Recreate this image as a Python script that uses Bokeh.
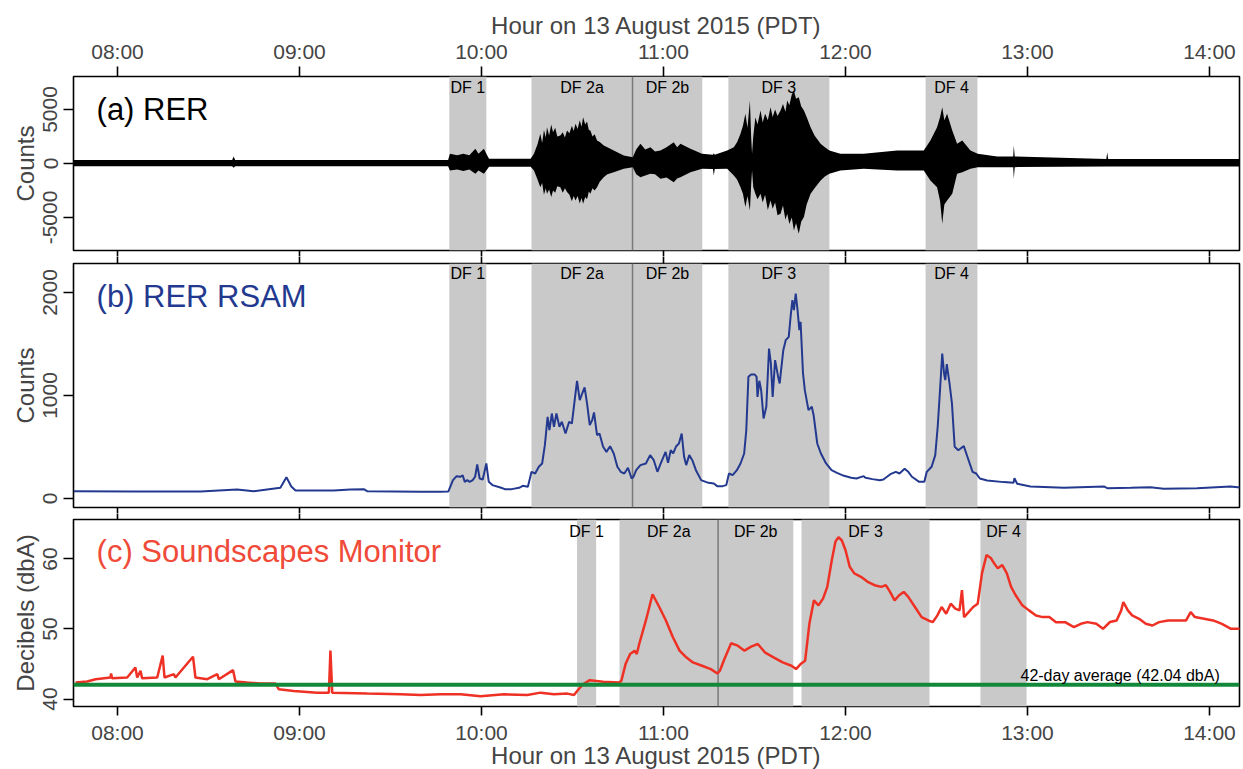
from bokeh.plotting import figure
from bokeh.models import Range1d, LinearAxis, FixedTicker, BoxAnnotation, Span, Label
from bokeh.layouts import column
from bokeh.embed import file_html
from bokeh.resources import INLINE

FONT = "Liberation Sans"

# x values: minutes after 08:00 PDT, 13 August 2015
hour_ticks = [0, 60, 120, 180, 240, 300, 360]
hour_labels = ["08:00", "09:00", "10:00", "11:00", "12:00", "13:00", "14:00"]
x_title = "Hour on 13 August 2015 (PDT)"

# debris-flow windows
df_names = ["DF 1", "DF 2a", "DF 2b", "DF 3", "DF 4"]
seis_df_start = [109.4, 136.5, 169.8, 201.4, 266.4]
seis_df_end = [121.6, 169.8, 192.8, 234.7, 283.5]
snd_df_start = [151.5, 165.5, 198.0, 225.5, 284.5]
snd_df_end = [157.8, 198.0, 222.8, 267.7, 299.7]

# (a) RER seismogram amplitude envelope: (minute, upper counts, lower counts)
rer_envelope = [
    (-14.4, 330, -250), (37.8, 330, -250), (38.3, 652, -400), (38.8, 330, -250),
    (99.9, 330, -250), (109.0, 330, -250), (109.6, 898, -645), (112.0, 760, -560),
    (114.0, 898, -700), (116.0, 760, -560), (118.0, 1361, -953), (119.0, 898, -645),
    (120.8, 1361, -953), (121.6, 898, -645), (122.5, 450, -300), (136.2, 450, -300),
    (137.3, 898, -645), (138.5, 1800, -1500), (139.4, 2750, -2188), (140.0, 1900, -1800),
    (140.6, 3100, -2900), (141.2, 2400, -2300), (141.6, 3367, -2805), (142.3, 2600, -2400),
    (143.0, 3600, -3100), (143.6, 2900, -2500), (144.3, 3300, -2700), (145.0, 2500, -2100),
    (146.0, 2596, -2188), (146.8, 2900, -2700), (147.5, 2400, -2300), (148.2, 3059, -2650),
    (149.0, 2800, -2900), (149.8, 3500, -3500), (150.4, 3000, -3000), (151.0, 3676, -3422),
    (151.7, 3200, -3000), (152.4, 4000, -3700), (153.0, 3400, -3200), (153.5, 4293, -3731),
    (154.2, 3600, -3100), (154.8, 3900, -3300), (155.4, 3100, -2600), (155.9, 3059, -2805),
    (156.6, 2500, -2300), (157.3, 2700, -2500), (158.1, 2133, -2188), (159.0, 2000, -1700),
    (160.3, 1670, -1262), (161.5, 1500, -1000), (163.6, 1207, -799), (166.9, 744, -491),
    (169.9, 590, -336), (171.0, 1300, -1000), (172.4, 1824, -1262), (174.0, 1300, -1100),
    (175.7, 1516, -953), (177.2, 1100, -1000), (179.0, 1207, -1416), (181.0, 1500, -1300),
    (183.4, 1978, -1725), (184.5, 1500, -1400), (185.6, 1824, -1262), (188.9, 1361, -799),
    (192.7, 898, -491), (196.3, 800, -500), (196.6, 960, -1108), (196.9, 800, -500),
    (201.0, 1207, -491), (203.2, 1516, -1108), (204.3, 2000, -1500), (205.4, 2750, -2188),
    (206.2, 3500, -2800), (207.0, 4602, -4039), (207.7, 3300, -3000), (208.5, 5836, -4348),
    (208.9, 2500, -2000), (209.2, 898, -645), (209.6, 2500, -2200), (210.3, 4293, -2805),
    (211.0, 3600, -3300), (212.0, 4910, -2805), (212.7, 3800, -3600), (213.5, 4600, -2900),
    (214.4, 4000, -4300), (215.3, 5219, -3422), (216.0, 4300, -4200), (216.8, 5000, -3600),
    (217.6, 4400, -4800), (218.6, 4910, -4656), (219.4, 5500, -3900), (220.2, 4800, -5200),
    (220.8, 5836, -4656), (221.5, 5400, -5600), (222.3, 6400, -5000), (223.0, 6762, -6199),
    (223.7, 6000, -5500), (224.6, 6145, -6508), (225.4, 5300, -5400), (226.3, 4910, -4965),
    (227.2, 4300, -3800), (228.5, 3367, -2805), (229.8, 2600, -2300), (231.8, 1824, -1571),
    (233.2, 1500, -1200), (234.7, 1207, -953), (238.3, 898, -645), (246.0, 898, -491),
    (257.0, 1207, -645), (265.8, 1207, -645), (268.0, 2133, -1571), (270.2, 3367, -2188),
    (271.2, 4300, -3500), (271.9, 5219, -5582), (272.6, 4000, -3800), (273.5, 4602, -3422),
    (275.2, 3059, -2805), (276.8, 1824, -953), (278.5, 2133, -799), (281.2, 1207, -491),
    (283.6, 898, -336), (290.0, 650, -336), (295.3, 650, -336), (295.5, 1670, -1416),
    (295.8, 650, -336), (326.0, 420, -280), (326.3, 1053, -280), (326.6, 420, -280),
    (371.2, 420, -280),
]

# (b) RER RSAM: (minute, counts)
rsam = [
    (-14.4, 71), (5.4, 68), (27.4, 68), (39.4, 88), (44.9, 71), (49.3, 88), (53.7, 104),
    (55.7, 207), (57.3, 117), (58.7, 78), (71.3, 78), (76.8, 88), (81.2, 91), (82.3, 71),
    (99.9, 65), (106.5, 65), (109.1, 68), (110.6, 178), (111.8, 217), (113.0, 211),
    (113.8, 224), (114.5, 162), (115.3, 178), (116.1, 162), (117.1, 178), (117.9, 211),
    (118.6, 330), (119.4, 194), (120.4, 185), (121.6, 340), (122.4, 162), (123.6, 130),
    (126.5, 104), (127.7, 91), (130.0, 91), (132.4, 104), (133.6, 123), (135.3, 114),
    (136.5, 259), (137.7, 243), (138.9, 308), (140.0, 340), (140.9, 518), (141.8, 793),
    (142.4, 664), (143.2, 825), (143.9, 696), (144.7, 825), (145.7, 696), (146.5, 745),
    (147.7, 631), (148.9, 745), (149.8, 728), (150.6, 923), (151.5, 1143), (152.4, 955),
    (153.0, 1003), (154.0, 1078), (154.8, 923), (155.7, 712), (156.5, 761), (157.1, 835),
    (158.1, 615), (158.9, 631), (160.1, 502), (161.2, 453), (162.4, 508), (163.6, 437),
    (164.8, 308), (165.9, 259), (167.1, 243), (168.3, 298), (169.5, 194), (170.1, 211),
    (171.0, 275), (172.4, 324), (174.2, 340), (175.6, 421), (176.8, 372), (178.0, 259),
    (179.1, 340), (180.7, 453), (181.5, 346), (182.4, 469), (183.2, 437), (184.2, 508),
    (185.1, 534), (186.0, 631), (186.8, 405), (187.5, 324), (188.5, 421), (189.5, 372),
    (190.7, 275), (192.4, 178), (194.8, 152), (196.6, 146), (197.7, 120), (199.5, 120),
    (200.7, 130), (201.6, 243), (202.8, 227), (204.2, 275), (205.4, 340), (206.6, 437),
    (207.3, 664), (208.0, 1181), (208.9, 1204), (210.1, 1204), (210.7, 1181), (211.0, 987),
    (211.6, 1143), (212.2, 1052), (213.0, 777), (213.9, 890), (214.8, 1456), (215.4, 1311),
    (216.0, 987), (216.8, 1343), (217.8, 1181), (218.3, 1117), (219.5, 1440), (220.3, 1537),
    (221.3, 1570), (221.9, 1764), (222.5, 1926), (223.0, 1829), (223.6, 1990), (224.2, 1829),
    (224.8, 1634), (225.2, 1715), (226.0, 1214), (226.6, 1052), (227.8, 858), (228.9, 890),
    (229.5, 809), (230.7, 534), (231.9, 437), (233.6, 340), (235.4, 275), (237.2, 249),
    (239.5, 220), (241.9, 201), (243.6, 194), (246.0, 217), (246.6, 201), (248.9, 188),
    (251.3, 178), (252.5, 185), (254.8, 236), (256.6, 259), (257.8, 243), (259.5, 288),
    (260.7, 259), (261.9, 211), (264.3, 162), (266.0, 162), (266.8, 259), (268.4, 308),
    (269.6, 421), (270.4, 696), (271.1, 1020), (271.9, 1408), (272.5, 1214), (272.9, 1149),
    (273.4, 1304), (274.3, 1117), (275.1, 923), (276.0, 502), (277.2, 469), (279.0, 508),
    (280.2, 405), (281.9, 259), (283.1, 243), (284.3, 194), (286.7, 175), (292.2, 159),
    (295.4, 152), (295.7, 198), (296.6, 143), (301.0, 117), (312.0, 104), (325.2, 117),
    (326.3, 100), (334.0, 104), (340.5, 110), (344.9, 94), (355.9, 100), (366.9, 117),
    (371.2, 104),
]

# (c) Soundscapes monitor: (minute, dBA)
sound = [
    (-13.8, 42.35), (-10.0, 42.49), (-7.2, 42.83), (-2.3, 43.07), (-2.1, 43.65), (-1.8, 42.97),
    (3.2, 43.07), (5.9, 44.51), (6.5, 43.07), (7.6, 44.03), (8.1, 42.97), (13.1, 43.07),
    (14.9, 46.19), (15.5, 43.07), (18.6, 43.55), (19.1, 43.07), (24.9, 46.04), (25.7, 43.07),
    (29.6, 42.83), (32.9, 43.55), (33.4, 42.83), (38.1, 44.12), (38.9, 42.49), (42.7, 42.35),
    (47.1, 42.21), (52.1, 42.21), (53.2, 41.39), (58.1, 41.15), (65.8, 40.91), (69.7, 40.91),
    (70.2, 46.91), (70.8, 40.91), (82.3, 40.77), (93.3, 40.67), (99.9, 40.58), (106.5, 40.67),
    (113.1, 40.67), (119.7, 40.38), (127.4, 40.67), (135.1, 40.58), (139.5, 40.91),
    (143.9, 40.67), (148.3, 40.77), (150.5, 40.58), (152.0, 41.39), (153.5, 42.11),
    (155.7, 42.69), (160.1, 42.45), (165.3, 42.35), (166.1, 42.59), (167.5, 44.99),
    (169.0, 46.43), (170.5, 46.91), (171.2, 46.43), (172.0, 47.86), (174.2, 51.22),
    (176.4, 54.96), (178.6, 53.14), (180.8, 51.22), (183.1, 48.82), (185.3, 46.91),
    (187.5, 45.95), (189.7, 45.23), (192.7, 44.75), (195.6, 44.27), (197.8, 43.64),
    (198.6, 44.03), (200.1, 45.71), (202.3, 47.96), (204.5, 47.62), (206.7, 46.91),
    (208.9, 47.48), (211.1, 47.86), (213.4, 46.67), (216.3, 45.95), (219.3, 45.23),
    (222.2, 44.75), (223.7, 44.27), (225.2, 44.99), (226.7, 45.47), (228.1, 50.74),
    (229.6, 54.10), (231.1, 53.38), (232.6, 54.34), (234.0, 56.02), (235.5, 59.86),
    (236.7, 62.49), (237.7, 63.12), (238.8, 62.64), (240.0, 61.29), (241.4, 58.90),
    (242.9, 57.94), (245.1, 57.46), (247.3, 56.74), (249.6, 56.26), (251.8, 56.02),
    (253.3, 56.26), (254.7, 55.30), (256.2, 54.10), (257.7, 54.82), (259.2, 55.30),
    (260.7, 54.58), (262.9, 53.14), (265.1, 51.70), (267.3, 51.22), (268.8, 50.98),
    (270.3, 51.94), (271.7, 53.14), (273.2, 52.18), (274.7, 53.62), (276.2, 52.90),
    (277.6, 52.66), (278.4, 55.54), (279.1, 51.70), (280.6, 52.42), (282.1, 53.14),
    (283.6, 53.62), (285.0, 57.94), (286.5, 60.57), (288.0, 60.09), (289.0, 59.38),
    (290.2, 58.66), (291.7, 59.14), (293.2, 57.94), (294.6, 56.02), (296.1, 54.82),
    (298.3, 53.38), (300.5, 52.66), (302.8, 51.94), (305.0, 51.70), (307.2, 51.70),
    (309.4, 50.98), (312.4, 50.98), (315.3, 50.26), (317.6, 50.74), (319.8, 50.98),
    (322.7, 50.74), (324.9, 50.02), (327.2, 51.00), (329.4, 51.22), (330.9, 52.66),
    (331.6, 53.86), (333.1, 52.66), (334.5, 51.94), (336.8, 51.46), (339.0, 50.74),
    (341.2, 50.50), (343.4, 50.98), (346.4, 51.22), (349.3, 51.22), (352.3, 51.22),
    (353.8, 52.42), (355.2, 51.70), (358.2, 51.46), (361.2, 51.22), (364.1, 50.74),
    (367.1, 50.02), (370.0, 50.02), (371.2, 49.78),
]
avg_42day = 42.04
avg_text = "42-day average (42.04 dbA)"

BAND = "#C9C9C9"
SEP = "#7A7A7A"
BLUE = "#23398F"
RED = "#EE3124"
RED_T = "#F04A38"
GREEN = "#12893A"

xr = Range1d(-14.5, 369.9)


def base(frame_h, ylo, yhi, top, bottom):
    p = figure(frame_width=1166, frame_height=frame_h, x_range=xr, y_range=Range1d(ylo, yhi),
               x_axis_location=None, output_backend="svg", toolbar_location=None,
               min_border_left=73, min_border_right=2, min_border_top=top, min_border_bottom=bottom,
               background_fill_color="white", border_fill_color="white",
               outline_line_color="black", outline_line_width=1.6)
    p.grid.grid_line_color = None
    return p


def add_x(p, place, tick_out, show, lab_standoff=1, title_standoff=1):
    ax = LinearAxis(ticker=FixedTicker(ticks=hour_ticks, minor_ticks=[]),
                    major_label_overrides={t: l for t, l in zip(hour_ticks, hour_labels)},
                    major_tick_out=tick_out, major_tick_in=0, minor_tick_out=0, minor_tick_in=0,
                    major_tick_line_width=1.6, major_tick_line_color="black", axis_line_color=None)
    if show:
        ax.axis_label = x_title
        ax.axis_label_text_font = FONT
        ax.axis_label_text_font_size = "24px"
        ax.axis_label_text_font_style = "normal"
        ax.axis_label_standoff = title_standoff
        ax.major_label_text_font = FONT
        ax.major_label_text_font_size = "21px"
        ax.major_label_standoff = lab_standoff
    else:
        ax.major_label_text_font_size = "0px"
        ax.major_label_text_alpha = 0
        ax.major_label_standoff = 0
    p.add_layout(ax, place)


def style_y(p, ticks, label):
    ax = p.yaxis[0]
    ax.ticker = FixedTicker(ticks=ticks, minor_ticks=[])
    ax.major_label_overrides = {t: str(t) for t in ticks}
    ax.major_label_orientation = "vertical"
    ax.major_tick_out = 10
    ax.major_tick_in = 0
    ax.minor_tick_out = 0
    ax.major_tick_line_width = 1.6
    ax.axis_line_color = None
    ax.major_label_text_font = FONT
    ax.major_label_text_font_size = "21px"
    ax.major_label_standoff = 6
    ax.axis_label = label
    ax.axis_label_text_font = FONT
    ax.axis_label_text_font_size = "24px"
    ax.axis_label_text_font_style = "normal"
    ax.axis_label_standoff = 2


def add_bands(p, starts, ends, ylab):
    for s, e, n in zip(starts, ends, df_names):
        p.add_layout(BoxAnnotation(left=s, right=e, fill_color=BAND, fill_alpha=1.0,
                                   line_color=None, level="underlay"))
        p.add_layout(Label(x=(s + e) / 2, y=ylab, text=n, text_align="center",
                           text_baseline="middle", text_font=FONT, text_font_size="16px",
                           text_color="black"))
    p.add_layout(Span(location=ends[1], dimension="height", line_color=SEP,
                      line_width=1.5, level="underlay"))


# (a)
pa = base(174, -8056, 8056, 76, 6)
add_x(pa, "above", 10, True, lab_standoff=4, title_standoff=-2)
add_x(pa, "below", 6, False)
style_y(pa, [-5000, 0, 5000], "Counts")
add_bands(pa, seis_df_start, seis_df_end, 7056)
pa.varea(x=[r[0] for r in rer_envelope], y1=[r[2] for r in rer_envelope],
         y2=[r[1] for r in rer_envelope], fill_color="black")
pa.add_layout(Label(x=-6.9, y=5000, text="(a) RER", text_font=FONT, text_font_size="31px",
                    text_baseline="middle", text_color="black"))

# (b)
pb = base(244, -87.4, 2281.6, 7, 6)
add_x(pb, "above", 7, False)
add_x(pb, "below", 6, False)
style_y(pb, [0, 1000, 2000], "Counts")
add_bands(pb, seis_df_start, seis_df_end, 2181)
pb.line(x=[r[0] for r in rsam], y=[r[1] for r in rsam], line_color=BLUE, line_width=2)
pb.add_layout(Label(x=-6.9, y=1966, text="(b) RER RSAM", text_font=FONT, text_font_size="31px",
                    text_baseline="middle", text_color=BLUE))

# (c)
pc = base(187, 38.93, 65.64, 6, 58)
add_x(pc, "above", 6, False)
add_x(pc, "below", 9, True, lab_standoff=5, title_standoff=-5)
style_y(pc, [40, 50, 60], "Decibels (dbA)")
add_bands(pc, snd_df_start, snd_df_end, 63.9)
pc.line(x=[r[0] for r in sound], y=[r[1] for r in sound], line_color=RED, line_width=2.5)
pc.add_layout(Span(location=avg_42day, dimension="width", line_color=GREEN, line_width=4))
pc.add_layout(Label(x=297.7, y=43.4, text=avg_text, text_font=FONT, text_font_size="16px",
                    text_baseline="middle", text_color="black"))
pc.add_layout(Label(x=-6.9, y=61.1, text="(c) Soundscapes Monitor", text_font=FONT,
                    text_font_size="31px", text_baseline="middle", text_color=RED_T))

layout = column(pa, pb, pc, spacing=0)
open("out.html", "w").write(file_html(layout, INLINE))
